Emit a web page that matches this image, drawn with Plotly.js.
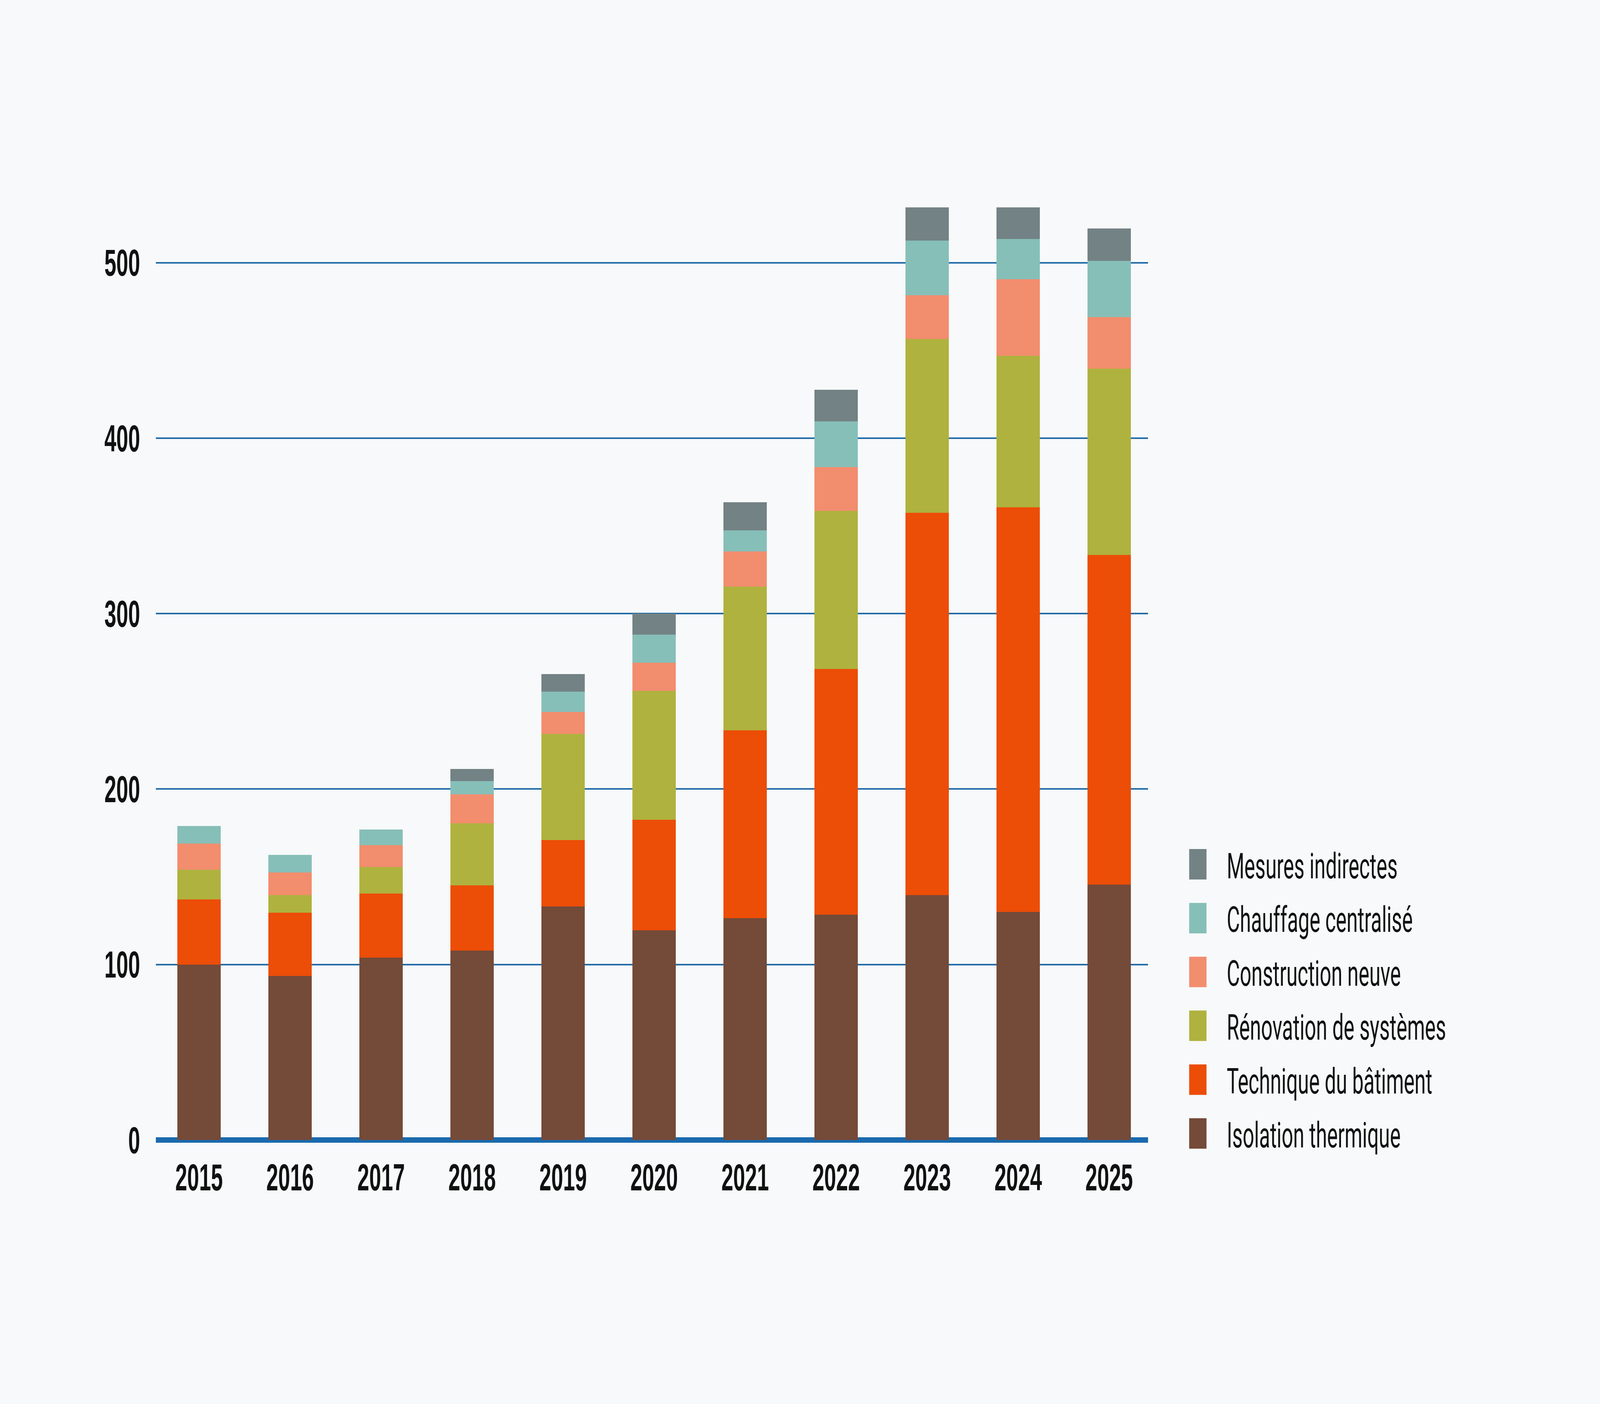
<!DOCTYPE html>
<html>
<head>
<meta charset="utf-8">
<script src="https://cdn.plot.ly/plotly-3.0.1.min.js"></script>
<style>
  html, body { margin: 0; padding: 0; background: #F7F9FA; overflow: hidden; width: 100%; height: 100%; }
  #wrap { position: absolute; left: 0; top: 0; width: 100vw; height: 100vh; overflow: hidden; }
  #chart { position: absolute; left: 0; top: 0; width: 1108px; height: 553px; transform-origin: 0 0; }
</style>
</head>
<body>
<div id="wrap"><div id="chart"></div></div>
<script>
const years = ['2015','2016','2017','2018','2019','2020','2021','2022','2023','2024','2025'];
const isolation    = [100, 93.5, 104, 108, 133, 119.5, 126.5, 128.5, 139.5, 130, 145.5];
const technique    = [37, 36, 36.5, 37, 38, 63, 107, 140, 218, 230.5, 188];
const renovation   = [17, 10, 15, 35.5, 60.5, 73.5, 82, 90, 99, 86.5, 106];
const construction = [15, 13, 12.5, 16.5, 12.5, 16, 20, 25, 25, 43.5, 29.5];
const chauffage    = [10, 10, 9, 7.5, 11.5, 16, 12, 26, 31, 23, 32];
const mesures      = [0, 0, 0, 7, 10, 12, 16, 18, 19, 18, 18.5];

const seriesNames = ['Isolation thermique','Technique du bâtiment','Rénovation de systèmes','Construction neuve','Chauffage centralisé','Mesures indirectes'];
const seriesData = [isolation, technique, renovation, construction, chauffage, mesures];
const seriesColors = ['#744A38','#EC4D07','#AFB23E','#F28D6E','#86BFB8','#738284'];

// base layout size, scaled to fill the browser window (reference is 7200x3595)
const W = 1108, H = 553;
const vw = window.innerWidth || document.documentElement.clientWidth;
const vh = window.innerHeight || document.documentElement.clientHeight;
document.getElementById('chart').style.transform = 'scale(' + (vw / W) + ',' + (vh / H) + ')';

const traces = seriesNames.map((n, i) => ({
  type: 'bar',
  name: n,
  x: years,
  y: seriesData[i],
  marker: { color: seriesColors[i], line: { width: 0 } },
  hoverinfo: 'x+y+name'
}));

const layout = {
  width: W,
  height: H,
  paper_bgcolor: '#F7F9FA',
  plot_bgcolor: '#F7F9FA',
  barmode: 'stack',
  bargap: 0.524,
  margin: { l: 108, r: 313, t: 62, b: 104, autoexpand: false },
  font: { family: 'Liberation Sans, Arial, sans-serif', color: '#111111' },
  xaxis: {
    type: 'category',
    range: [-0.474, 10.427],
    showgrid: false,
    showline: false,
    ticks: '',
    ticklabelstandoff: 4,
    tickfont: { family: 'Liberation Sans, Arial, sans-serif', size: 14.8, weight: 'bold', color: '#111111' },
    fixedrange: true
  },
  yaxis: {
    range: [0, 560],
    tickvals: [0, 100, 200, 300, 400, 500],
    ticktext: ['0','100','200','300','400','500'],
    showgrid: true,
    gridcolor: '#236BA8',
    gridwidth: 0.6,
    zeroline: true,
    zerolinecolor: '#1A69AE',
    zerolinewidth: 2.1,
    showline: false,
    ticks: '',
    ticklabelstandoff: 10,
    tickfont: { family: 'Liberation Sans, Arial, sans-serif', size: 14.8, weight: 'bold', color: '#111111' },
    fixedrange: true
  },
  showlegend: true,
  legend: {
    xref: 'container', yref: 'container',
    x: 0.7306, xanchor: 'left',
    y: 0.4126, yanchor: 'top',
    traceorder: 'reversed',
    bgcolor: 'rgba(0,0,0,0)',
    font: { family: 'Roboto, Liberation Sans, sans-serif', size: 14, color: '#111111' }
  }
};

Plotly.newPlot('chart', traces, layout, { displayModeBar: false, staticPlot: true });
</script>
</body>
</html>
